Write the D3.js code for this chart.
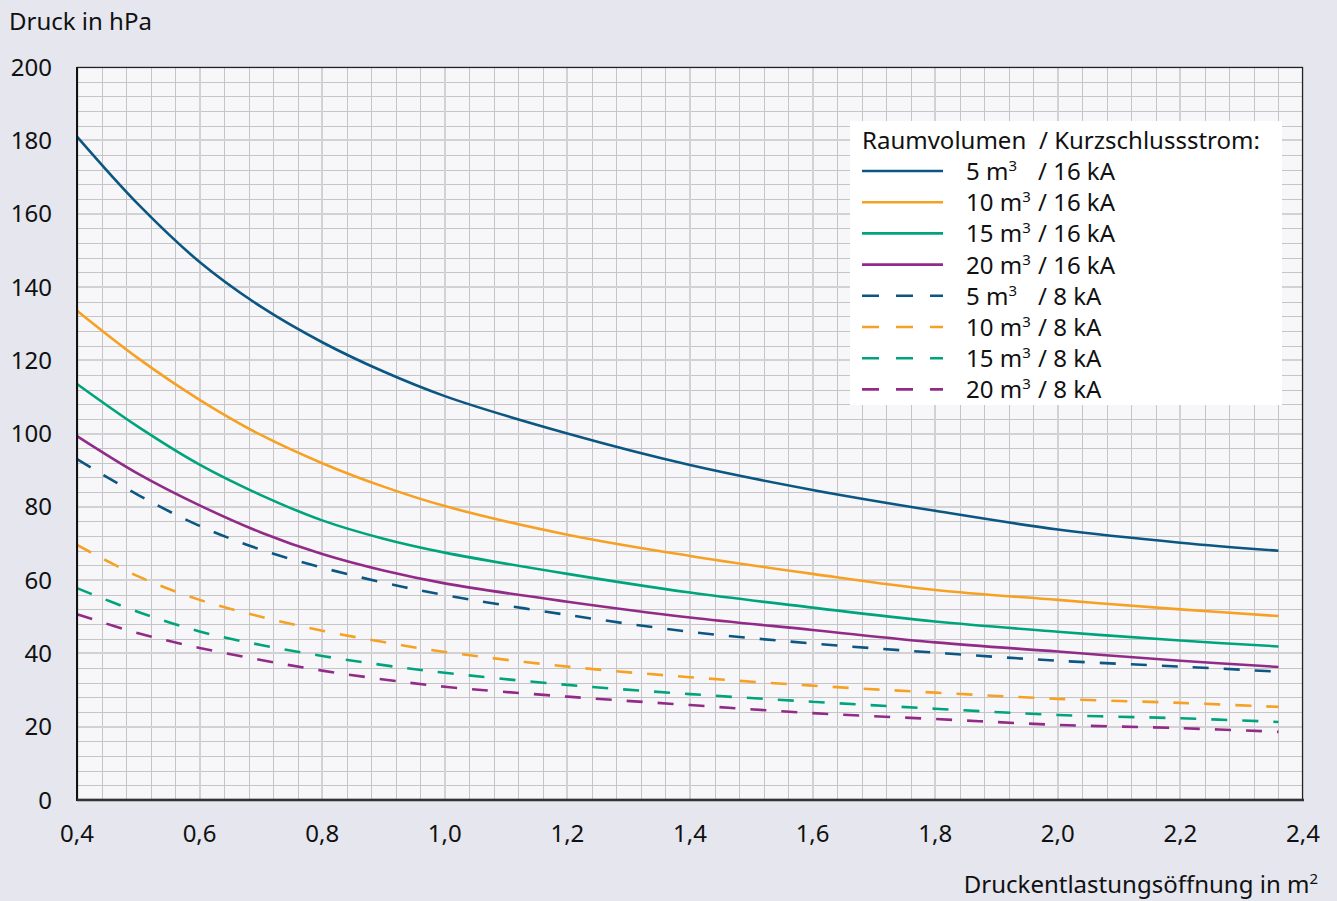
<!DOCTYPE html>
<html>
<head>
<meta charset="utf-8">
<title>Druck</title>
<script src="https://cdn.jsdelivr.net/npm/d3@7"></script>
<style>
  body{ margin:0; background:#e5e6ee; }
  svg{ display:block; font-family:"Noto Sans","Open Sans",sans-serif; }
  .minor{ stroke:#c5c5c7; stroke-width:1px; }
  .major{ stroke:#d2d2d4; stroke-width:2px; }
  .tick{ font-size:24px; fill:#111; }
</style>
</head>
<body>
<svg id="chart" width="1337" height="901"></svg>
<script>
// --- data ---
var area = [0.4, 0.5, 0.6, 0.7, 0.8, 0.9, 1.0, 1.2, 1.4, 1.6, 1.8, 2.0, 2.2, 2.36];

var v5_16  = [181, 162.5, 146.8, 134.6, 124.9, 116.9, 110.2, 100, 91.4, 84.6, 78.9, 73.8, 70.2, 68];
var v10_16 = [133.5, 120.5, 109.2, 99.6, 91.9, 85.5, 80.2, 72.4, 66.6, 61.7, 57.3, 54.6, 52.0, 50.2];
var v15_16 = [113.5, 101.8, 91.5, 83.2, 76.3, 71.3, 67.5, 61.7, 56.6, 52.5, 48.7, 45.9, 43.5, 41.9];
var v20_16 = [99.3, 89.0, 80.4, 73.0, 67.1, 62.6, 59.1, 54.1, 49.8, 46.4, 43.0, 40.5, 38.0, 36.3];
var v5_8   = [93, 83.2, 74.8, 68.3, 63.4, 59.3, 55.9, 50.5, 45.9, 42.7, 40.2, 38.0, 36.4, 35.0];
var v10_8  = [69.6, 61, 54.6, 50, 46.2, 43.1, 40.4, 36.4, 33.5, 31.2, 29.3, 27.6, 26.5, 25.4];
var v15_8  = [57.8, 51.3, 46, 42.3, 39.3, 36.8, 34.7, 31.4, 28.9, 26.8, 24.9, 23.2, 22.3, 21.3];
var v20_8  = [50.7, 45.5, 41.5, 38.2, 35.3, 32.9, 30.9, 28.2, 25.9, 23.7, 22.1, 20.5, 19.6, 18.6];

var volumes = ["5", "10", "15", "20", "5", "10", "15", "20"];
var currents = ["16 kA", "16 kA", "16 kA", "16 kA", "8 kA", "8 kA", "8 kA", "8 kA"];
var colors = ["#0b5682", "#f6a124", "#00a47c", "#922a88", "#0b5682", "#f6a124", "#00a47c", "#922a88"];
var dashed = [false, false, false, false, true, true, true, true];
var values = [v5_16, v10_16, v15_16, v20_16, v5_8, v10_8, v15_8, v20_8];

var xTicks = [0.4, 0.6, 0.8, 1.0, 1.2, 1.4, 1.6, 1.8, 2.0, 2.2, 2.4];
var yTicks = [0, 20, 40, 60, 80, 100, 120, 140, 160, 180, 200];

// --- layout ---
var svg = d3.select("#chart");
var pLeft = 77, pRight = 1303, pTop = 67, pBottom = 800;

var x = d3.scaleLinear().domain([0.4, 2.4]).range([pLeft, pRight]);
var y = d3.scaleLinear().domain([0, 200]).range([pBottom, pTop]);

svg.append("rect")
   .attr("x", pLeft).attr("y", pTop)
   .attr("width", pRight - pLeft).attr("height", pBottom - pTop)
   .attr("fill", "#f7f7f9");

// grid: minor every 0.04 / 4 hPa, major on the ticks
var gx = d3.range(0, 51).map(function(i){ return 0.4 + i * 0.04; });
var gy = d3.range(0, 51).map(function(i){ return i * 4; });

svg.append("g").selectAll("line")
   .data(gx.filter(function(d,i){ return i % 5 != 0; }))
   .enter().append("line").attr("class","minor")
   .attr("x1", function(d){ return Math.round(x(d)) + 0.5; })
   .attr("x2", function(d){ return Math.round(x(d)) + 0.5; })
   .attr("y1", pTop).attr("y2", pBottom);

svg.append("g").selectAll("line")
   .data(gy.filter(function(d,i){ return i % 5 != 0; }))
   .enter().append("line").attr("class","minor")
   .attr("y1", function(d){ return Math.round(y(d)) + 0.5; })
   .attr("y2", function(d){ return Math.round(y(d)) + 0.5; })
   .attr("x1", pLeft).attr("x2", pRight);

svg.append("g").selectAll("line")
   .data(xTicks)
   .enter().append("line").attr("class","major")
   .attr("x1", function(d){ return Math.round(x(d)); })
   .attr("x2", function(d){ return Math.round(x(d)); })
   .attr("y1", pTop).attr("y2", pBottom);

svg.append("g").selectAll("line")
   .data(yTicks)
   .enter().append("line").attr("class","major")
   .attr("y1", function(d){ return Math.round(y(d)); })
   .attr("y2", function(d){ return Math.round(y(d)); })
   .attr("x1", pLeft).attr("x2", pRight);

// curves
var line = d3.line()
    .x(function(d){ return x(d[0]); })
    .y(function(d){ return y(d[1]); })
    .curve(d3.curveCatmullRom.alpha(0.5));

values.forEach(function(vals, k){
    svg.append("path")
       .datum(area.map(function(a, i){ return [a, vals[i]]; }))
       .attr("d", line)
       .attr("fill", "none")
       .attr("stroke", colors[k])
       .attr("stroke-width", 2.6)
       .attr("stroke-dasharray", dashed[k] ? "16,15" : null);
});

// frame
svg.append("rect")
   .attr("x", pLeft + 0.5).attr("y", pTop + 0.5)
   .attr("width", pRight - pLeft - 1).attr("height", pBottom - pTop - 1)
   .attr("fill", "none").attr("stroke", "#222").attr("stroke-width", 1.2);
svg.append("line").attr("x1", pLeft).attr("x2", pLeft).attr("y1", pTop).attr("y2", pBottom + 1)
   .attr("stroke", "#111").attr("stroke-width", 2);
svg.append("line").attr("x1", pLeft).attr("x2", pRight + 1).attr("y1", pBottom).attr("y2", pBottom)
   .attr("stroke", "#333").attr("stroke-width", 2.5);

// tick labels
svg.append("g").selectAll("text")
   .data(yTicks).enter().append("text").attr("class","tick")
   .attr("x", 52).attr("y", function(d){ return y(d); })
   .attr("dy", "0.36em").attr("text-anchor", "end")
   .text(function(d){ return d; });

svg.append("g").selectAll("text")
   .data(xTicks).enter().append("text").attr("class","tick")
   .attr("x", function(d){ return x(d); }).attr("y", 842)
   .attr("text-anchor", "middle")
   .text(function(d){ return d3.format(".1f")(d).replace(".", ","); });

// axis titles
svg.append("text").attr("x", 9).attr("y", 30)
   .attr("font-size", "24px").attr("fill", "#111")
   .text("Druck in hPa");

var xt = svg.append("text").attr("x", 1318).attr("y", 893)
   .attr("text-anchor", "end").attr("font-size", "24px").attr("fill", "#111");
xt.append("tspan").text("Druckentlastungsöffnung in m");
xt.append("tspan").attr("font-size", "15px").attr("dy", "-9").text("2");

// legend
var lg = svg.append("g");
lg.append("rect").attr("x", 850).attr("y", 121).attr("width", 432).attr("height", 284)
  .attr("fill", "#ffffff");
var ttl = lg.append("text").attr("x", 862).attr("y", 149)
  .attr("font-size", "24px").attr("fill", "#111");
ttl.append("tspan").text("Raumvolumen");
ttl.append("tspan").attr("x", 1039).text("/ Kurzschlussstrom:");

volumes.forEach(function(v, k){
    var yy = 171 + k * 31.2;
    lg.append("line").attr("x1", 862).attr("x2", 943).attr("y1", yy).attr("y2", yy)
      .attr("stroke", colors[k]).attr("stroke-width", 2.6)
      .attr("stroke-dasharray", dashed[k] ? "17,17" : null);
    var t = lg.append("text").attr("x", 966).attr("y", yy + 9)
      .attr("font-size", "24px").attr("fill", "#111");
    t.append("tspan").text(v + " m");
    t.append("tspan").attr("font-size", "15px").attr("dy", "-9").text("3");
    t.append("tspan").attr("x", 1038).attr("dy", "9").text("/ " + currents[k]);
});
</script>
</body>
</html>
